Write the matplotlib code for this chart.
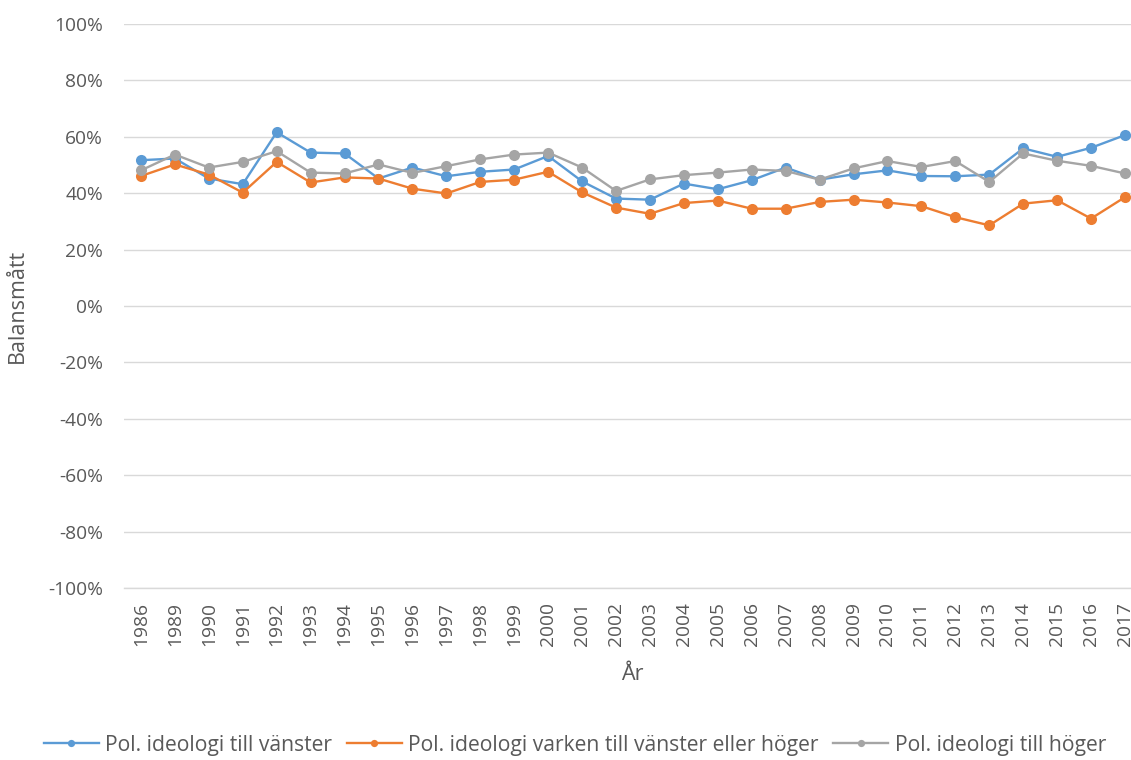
import matplotlib
matplotlib.use("Agg")
import matplotlib.pyplot as plt
from matplotlib.ticker import FuncFormatter

years = ["1986", "1989", "1990", "1991", "1992", "1993", "1994", "1995", "1996", "1997",
         "1998", "1999", "2000", "2001", "2002", "2003", "2004", "2005", "2006", "2007",
         "2008", "2009", "2010", "2011", "2012", "2013", "2014", "2015", "2016", "2017"]

vanster = [51.7, 52.3, 45.2, 43.2, 61.6, 54.4, 54.1, 45.2, 49.1, 46.0,
           47.6, 48.4, 53.2, 44.2, 38.1, 37.7, 43.4, 41.4, 44.6, 49.1,
           44.8, 46.7, 48.1, 46.1, 46.0, 46.6, 55.9, 52.9, 56.1, 60.6]

varken = [46.1, 50.2, 46.6, 40.2, 51.1, 43.8, 45.6, 45.2, 41.6, 39.9,
          44.0, 44.8, 47.6, 40.3, 34.9, 32.7, 36.5, 37.4, 34.5, 34.5,
          36.9, 37.7, 36.7, 35.4, 31.5, 28.6, 36.3, 37.5, 31.0, 38.6]

hoger = [48.1, 53.7, 49.1, 51.1, 54.9, 47.3, 47.0, 50.2, 47.2, 49.6,
         52.0, 53.7, 54.4, 49.1, 40.8, 44.9, 46.4, 47.3, 48.4, 47.9,
         44.8, 48.8, 51.4, 49.3, 51.4, 44.0, 54.1, 51.5, 49.7, 47.0]

series_names = ["Pol. ideologi till vänster",
                "Pol. ideologi varken till vänster eller höger",
                "Pol. ideologi till höger"]
colors = ["#5B9BD5", "#ED7D31", "#A5A5A5"]

plt.rcParams['font.family'] = ['Open Sans', 'DejaVu Sans']
text_color = "#595959"

W, H = 1131, 760
fig = plt.figure(figsize=(W / 100, H / 100), dpi=100)
left, right, top, bottom = 124, 1131, 24, 588
ax = fig.add_axes([left / W, 1 - bottom / H, (right - left) / W, (bottom - top) / H])

x = list(range(len(years)))
for vals, name, c in zip([vanster, varken, hoger], series_names, colors):
    ax.plot(x, vals, color=c, linewidth=1.7, marker='o', markersize=8,
            markeredgewidth=0, label=name, zorder=3)

ax.set_ylim(-100, 100)
ax.set_yticks(range(-100, 101, 20))
ax.yaxis.set_major_formatter(FuncFormatter(lambda v, p: f"{int(round(v))}%"))
ax.set_xlim(-0.5, (1131 - 141) / 33.93)
ax.set_xticks(x)
ax.set_xticklabels(years, rotation=90)

ax.grid(axis='y', color="#D9D9D9", linewidth=1.0, zorder=0)
for s in ['top', 'right', 'left']:
    ax.spines[s].set_visible(False)
ax.spines['bottom'].set_color("#D9D9D9")
ax.spines['bottom'].set_linewidth(1.0)
ax.tick_params(axis='both', length=0, labelsize=13.8, colors=text_color)
ax.tick_params(axis='y', pad=15)
ax.tick_params(axis='x', pad=10)

fig.text(17 / W, 1 - 306 / H, "Balansmått", rotation=90, ha='center', va='center',
         fontsize=15.5, color=text_color)
fig.text(632 / W, 1 - 674 / H, "År", ha='center', va='center', fontsize=15.5, color=text_color)

leg = fig.legend(loc='center', bbox_to_anchor=(575 / W, 1 - 745 / H), ncol=3,
                 frameon=False, fontsize=15.2, handlelength=2.6, columnspacing=0.7,
                 handletextpad=0.3, markerscale=0.65)
for t in leg.get_texts():
    t.set_color(text_color)

fig.savefig("out.png", dpi=100)
